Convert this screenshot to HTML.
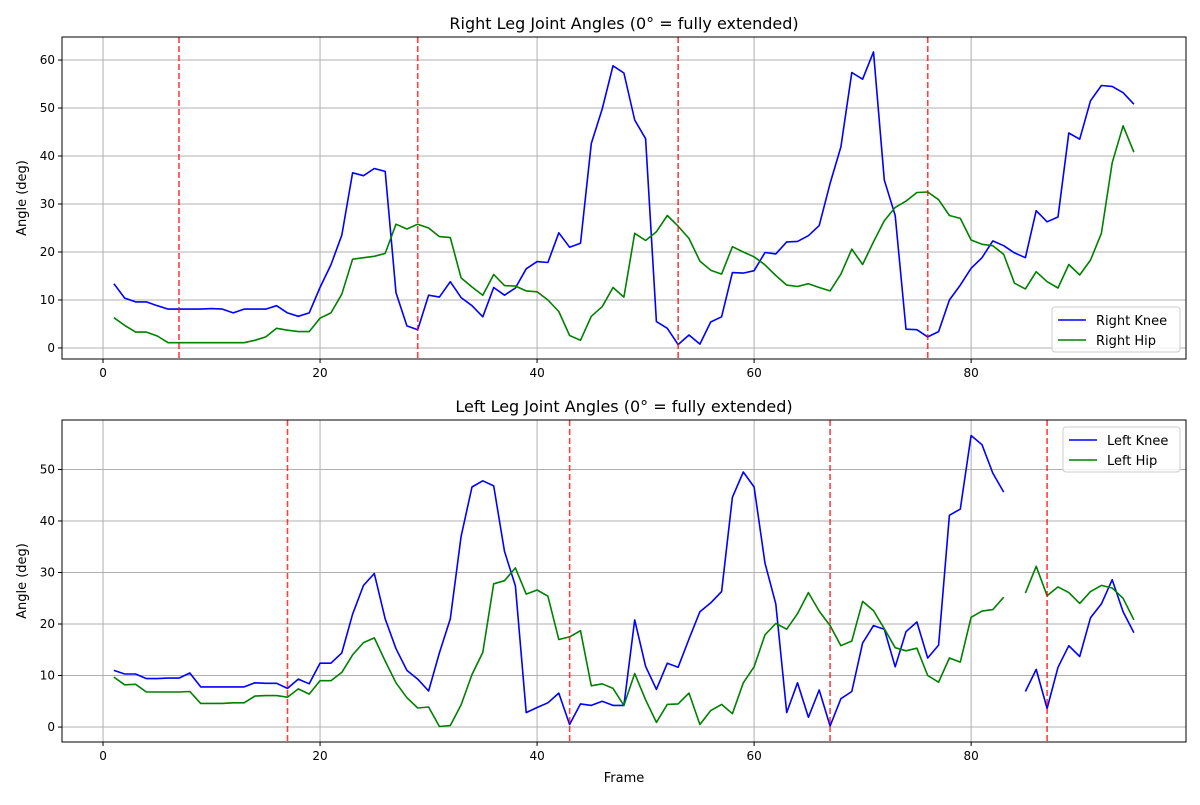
<!DOCTYPE html>
<html><head><meta charset="utf-8"><style>
body{margin:0;background:#fff;font-family:"Liberation Sans","DejaVu Sans",sans-serif}
svg text{font-family:"DejaVu Sans","Liberation Sans",sans-serif}
</style></head><body>
<svg id="c" width="1200" height="800" xmlns="http://www.w3.org/2000/svg"></svg>
<script>
const frames = Array.from({length:95},(_,i)=>i+1);
const rightKnee=[13.4,10.4,9.6,9.6,8.8,8.1,8.1,8.1,8.1,8.2,8.1,7.3,8.1,8.1,8.1,8.8,7.3,6.6,7.3,12.6,17.3,23.5,36.5,35.9,37.4,36.8,11.5,4.6,3.8,11,10.6,13.8,10.5,8.8,6.5,12.6,11,12.5,16.5,18,17.8,24,21,21.8,42.6,49.8,58.8,57.3,47.5,43.6,5.5,4.1,0.7,2.7,0.8,5.4,6.5,15.7,15.6,16.1,19.9,19.6,22.1,22.2,23.4,25.5,34.3,41.9,57.4,56,61.7,35,27.6,3.9,3.8,2.3,3.4,10,13.1,16.6,18.8,22.3,21.3,19.8,18.8,28.6,26.3,27.3,44.8,43.5,51.5,54.7,54.5,53.2,50.8];
const rightHip=[6.3,4.7,3.3,3.3,2.5,1.1,1.1,1.1,1.1,1.1,1.1,1.1,1.1,1.6,2.3,4.1,3.7,3.4,3.4,6.2,7.3,11.2,18.5,18.8,19.1,19.7,25.8,24.8,25.8,25.0,23.2,23,14.6,12.7,11,15.3,13,12.9,11.9,11.7,10,7.6,2.6,1.6,6.6,8.6,12.6,10.6,23.9,22.4,24.2,27.6,25.4,22.8,18.1,16.2,15.4,21.1,20,19,17.3,15.1,13.1,12.8,13.4,12.6,11.9,15.4,20.6,17.4,22.1,26.5,29.3,30.6,32.4,32.5,30.9,27.6,27,22.5,21.6,21.3,19.5,13.5,12.3,15.9,13.8,12.5,17.4,15.2,18.3,23.9,38.6,46.3,40.8];
const leftKnee=[11,10.3,10.3,9.4,9.4,9.5,9.5,10.5,7.8,7.8,7.8,7.8,7.8,8.6,8.5,8.5,7.5,9.3,8.4,12.4,12.4,14.4,21.9,27.5,29.8,21,15.2,11,9.3,7,14.4,21,37,46.6,47.8,46.8,34.1,27.4,2.8,3.8,4.7,6.6,0.5,4.5,4.2,5,4.2,4.2,20.8,11.8,7.3,12.4,11.6,17.1,22.4,24.1,26.3,44.6,49.5,46.6,31.8,23.9,2.8,8.6,1.9,7.2,0.2,5.5,6.9,16.3,19.7,19,11.7,18.5,20.4,13.4,15.9,41.1,42.3,56.6,54.8,49.3,45.6,null,6.9,11.2,3.6,11.6,15.8,13.7,21.2,23.9,28.6,22.4,18.3];
const leftHip=[9.7,8.2,8.3,6.8,6.8,6.8,6.8,6.9,4.6,4.6,4.6,4.7,4.7,6,6.1,6.1,5.8,7.4,6.4,9,9,10.6,14,16.4,17.3,12.8,8.6,5.7,3.7,3.9,0.1,0.3,4.3,10.2,14.5,27.8,28.4,30.9,25.8,26.6,25.4,17,17.5,18.7,8,8.4,7.5,4.2,10.4,5.3,0.9,4.4,4.5,6.6,0.5,3.2,4.4,2.6,8.6,11.7,17.9,20.1,19,22,26.1,22.5,19.7,15.8,16.7,24.4,22.6,19.1,15.4,14.8,15.3,10,8.7,13.4,12.6,21.3,22.5,22.8,25.2,null,26,31.2,25.5,27.2,26.1,24,26.3,27.5,27,25,20.8];
const rightEvents=[7,29,53,76];
const leftEvents=[17,43,67,87];
const xTicks=[0,20,40,60,80];
const topYTicks=[0,10,20,30,40,50,60];
const botYTicks=[0,10,20,30,40,50];

const NS="http://www.w3.org/2000/svg";
const svg=document.getElementById('c');
function el(tag,attrs,parent){const e=document.createElementNS(NS,tag);for(const k in attrs)e.setAttribute(k,attrs[k]);(parent||svg).appendChild(e);return e;}
function panel(cfg){
  const g=el('g',{});
  
  
  const L=62,R=1186,T=cfg.top,B=cfg.bottom;
  const xs=v=>L+(v-(-3.78))/(99.8+3.78)*(R-L);
  const ys=v=>B-(v-cfg.ymin)/(cfg.ymax-cfg.ymin)*(B-T);
  xTicks.forEach(t=>{
    const l=el('line',{x1:xs(t),x2:xs(t),y1:T,y2:B,stroke:'#b0b0b0','stroke-width':1},g);
    
    
    el('line',{x1:xs(t),x2:xs(t),y1:B,y2:B+4,stroke:'#000'},g);
    const tx=el('text',{x:xs(t),y:B+18,'text-anchor':'middle','font-size':12},g);
    tx.textContent=t;
    
    
  });
  cfg.yticks.forEach(t=>{
    const l=el('line',{x1:L,x2:R,y1:ys(t),y2:ys(t),stroke:'#b0b0b0','stroke-width':1},g);
    
    
    el('line',{x1:L-4,x2:L,y1:ys(t),y2:ys(t),stroke:'#000'},g);
    const tx=el('text',{x:L-7,y:ys(t)+4,'text-anchor':'end','font-size':12},g);
    tx.textContent=t;
    
    
  });
  function line(vals,color,nm){
    let d='',pen=false;
    vals.forEach((v,i)=>{if(v===null){pen=false;return;}d+=(pen?'L':'M')+xs(frames[i]).toFixed(1)+','+ys(v).toFixed(1);pen=true;});
    const p=el('path',{d:d,fill:'none',stroke:color,'stroke-width':1.6,'stroke-linejoin':'round'},g);
    
    
  }
  line(cfg.knee,'#0000ff',cfg.kneeName);
  line(cfg.hip,'#008000',cfg.hipName);
  cfg.events.forEach(e=>{
    const l=el('line',{x1:xs(e),x2:xs(e),y1:T,y2:B,stroke:'#ff0000','stroke-opacity':0.75,'stroke-width':1.6,'stroke-dasharray':'6,3'},g);
    
    
  });
  const fr=el('rect',{x:L,y:T,width:R-L,height:B-T,fill:'none',stroke:'#000','stroke-width':1},g);
  
  
  const tt=el('text',{x:(L+R)/2,y:T-8,'text-anchor':'middle','font-size':16},g);
  tt.textContent=cfg.title;
  
  
  const yl=el('text',{x:0,y:0,'text-anchor':'middle','font-size':13,transform:`translate(26,${(T+B)/2}) rotate(-90)`},g);
  yl.textContent='Angle (deg)';
  
  
  const lg=el('g',{},g);
  
  
  const lx=cfg.legX,ly=cfg.legY,lw=R-6-lx;
  el('rect',{x:lx,y:ly,width:lw,height:45,rx:3,fill:'#fff','fill-opacity':0.8,stroke:'#ccc'},lg);
  [[cfg.kneeLabel,'#0000ff'],[cfg.hipLabel,'#008000']].forEach((it,i)=>{
    const yy=ly+13+i*20;
    el('line',{x1:lx+6,x2:lx+34,y1:yy,y2:yy,stroke:it[1],'stroke-width':1.6},lg);
    const t=el('text',{x:lx+44,y:yy+5,'font-size':13},lg);
    t.textContent=it[0];
    
    
  });
}
panel({name:'right-leg-chart',top:37,bottom:359,ymin:-2.3,ymax:64.8,yticks:topYTicks,knee:rightKnee,hip:rightHip,events:rightEvents,title:'Right Leg Joint Angles (0° = fully extended)',kneeName:'right-knee-line',hipName:'right-hip-line',kneeLabel:'Right Knee',hipLabel:'Right Hip',legX:1052,legY:307});
panel({name:'left-leg-chart',top:420,bottom:742,ymin:-2.9,ymax:59.6,yticks:botYTicks,knee:leftKnee,hip:leftHip,events:leftEvents,title:'Left Leg Joint Angles (0° = fully extended)',kneeName:'left-knee-line',hipName:'left-hip-line',kneeLabel:'Left Knee',hipLabel:'Left Hip',legX:1063,legY:427});
const xt=el('text',{x:624,y:782,'text-anchor':'middle','font-size':13});
xt.textContent='Frame';


</script>
</body></html>
